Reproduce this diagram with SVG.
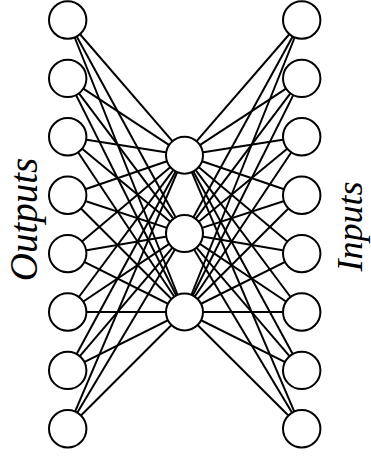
<svg xmlns="http://www.w3.org/2000/svg" width="371" height="459" viewBox="0 0 371 459">
<style>
.n{fill:#fff;stroke:#000;stroke-width:2}
.e line{stroke:#000;stroke-width:2}
.t{font-style:italic;fill:#000;text-anchor:middle}
</style>
<rect width="371" height="459" fill="#fff"/>
<g id="edges" class="e">
<line x1="67.7" y1="20" x2="184.5" y2="155.2"/><line x1="67.7" y1="20" x2="184.5" y2="233.6"/><line x1="67.7" y1="20" x2="184.5" y2="312"/>
<line x1="67.7" y1="78.4" x2="184.5" y2="155.2"/><line x1="67.7" y1="78.4" x2="184.5" y2="233.6"/><line x1="67.7" y1="78.4" x2="184.5" y2="312"/>
<line x1="67.7" y1="136.8" x2="184.5" y2="155.2"/><line x1="67.7" y1="136.8" x2="184.5" y2="233.6"/><line x1="67.7" y1="136.8" x2="184.5" y2="312"/>
<line x1="67.7" y1="195.2" x2="184.5" y2="155.2"/><line x1="67.7" y1="195.2" x2="184.5" y2="233.6"/><line x1="67.7" y1="195.2" x2="184.5" y2="312"/>
<line x1="67.7" y1="253.6" x2="184.5" y2="155.2"/><line x1="67.7" y1="253.6" x2="184.5" y2="233.6"/><line x1="67.7" y1="253.6" x2="184.5" y2="312"/>
<line x1="67.7" y1="312" x2="184.5" y2="155.2"/><line x1="67.7" y1="312" x2="184.5" y2="233.6"/><line x1="67.7" y1="312" x2="184.5" y2="312"/>
<line x1="67.7" y1="370.4" x2="184.5" y2="155.2"/><line x1="67.7" y1="370.4" x2="184.5" y2="233.6"/><line x1="67.7" y1="370.4" x2="184.5" y2="312"/>
<line x1="67.7" y1="428.8" x2="184.5" y2="155.2"/><line x1="67.7" y1="428.8" x2="184.5" y2="233.6"/><line x1="67.7" y1="428.8" x2="184.5" y2="312"/>
<line x1="301.7" y1="20" x2="184.5" y2="155.2"/><line x1="301.7" y1="20" x2="184.5" y2="233.6"/><line x1="301.7" y1="20" x2="184.5" y2="312"/>
<line x1="301.7" y1="78.4" x2="184.5" y2="155.2"/><line x1="301.7" y1="78.4" x2="184.5" y2="233.6"/><line x1="301.7" y1="78.4" x2="184.5" y2="312"/>
<line x1="301.7" y1="136.8" x2="184.5" y2="155.2"/><line x1="301.7" y1="136.8" x2="184.5" y2="233.6"/><line x1="301.7" y1="136.8" x2="184.5" y2="312"/>
<line x1="301.7" y1="195.2" x2="184.5" y2="155.2"/><line x1="301.7" y1="195.2" x2="184.5" y2="233.6"/><line x1="301.7" y1="195.2" x2="184.5" y2="312"/>
<line x1="301.7" y1="253.6" x2="184.5" y2="155.2"/><line x1="301.7" y1="253.6" x2="184.5" y2="233.6"/><line x1="301.7" y1="253.6" x2="184.5" y2="312"/>
<line x1="301.7" y1="312" x2="184.5" y2="155.2"/><line x1="301.7" y1="312" x2="184.5" y2="233.6"/><line x1="301.7" y1="312" x2="184.5" y2="312"/>
<line x1="301.7" y1="370.4" x2="184.5" y2="155.2"/><line x1="301.7" y1="370.4" x2="184.5" y2="233.6"/><line x1="301.7" y1="370.4" x2="184.5" y2="312"/>
<line x1="301.7" y1="428.8" x2="184.5" y2="155.2"/><line x1="301.7" y1="428.8" x2="184.5" y2="233.6"/><line x1="301.7" y1="428.8" x2="184.5" y2="312"/>
</g>
<g id="out1"><circle class="n" cx="67.7" cy="20" r="18.7"/></g>
<g id="out2"><circle class="n" cx="67.7" cy="78.4" r="18.7"/></g>
<g id="out3"><circle class="n" cx="67.7" cy="136.8" r="18.7"/></g>
<g id="out4"><circle class="n" cx="67.7" cy="195.2" r="18.7"/></g>
<g id="out5"><circle class="n" cx="67.7" cy="253.6" r="18.7"/></g>
<g id="out6"><circle class="n" cx="67.7" cy="312" r="18.7"/></g>
<g id="out7"><circle class="n" cx="67.7" cy="370.4" r="18.7"/></g>
<g id="out8"><circle class="n" cx="67.7" cy="428.8" r="18.7"/></g>
<g id="hid1"><circle class="n" cx="184.5" cy="155.2" r="18.5"/></g>
<g id="hid2"><circle class="n" cx="184.5" cy="233.6" r="18.5"/></g>
<g id="hid3"><circle class="n" cx="184.5" cy="312" r="18.5"/></g>
<g id="in1"><circle class="n" cx="301.7" cy="20" r="18.7"/></g>
<g id="in2"><circle class="n" cx="301.7" cy="78.4" r="18.7"/></g>
<g id="in3"><circle class="n" cx="301.7" cy="136.8" r="18.7"/></g>
<g id="in4"><circle class="n" cx="301.7" cy="195.2" r="18.7"/></g>
<g id="in5"><circle class="n" cx="301.7" cy="253.6" r="18.7"/></g>
<g id="in6"><circle class="n" cx="301.7" cy="312" r="18.7"/></g>
<g id="in7"><circle class="n" cx="301.7" cy="370.4" r="18.7"/></g>
<g id="in8"><circle class="n" cx="301.7" cy="428.8" r="18.7"/></g>
<g id="outputs-label"><text class="t" font-family="'Liberation Serif', 'DejaVu Serif', serif" font-size="39" transform="translate(37,219.5) rotate(-90)">Outputs</text></g>
<g id="inputs-label"><text class="t" font-family="'Liberation Serif', 'DejaVu Serif', serif" font-size="36" transform="translate(362,226.5) rotate(-90)">Inputs</text></g>
</svg>
